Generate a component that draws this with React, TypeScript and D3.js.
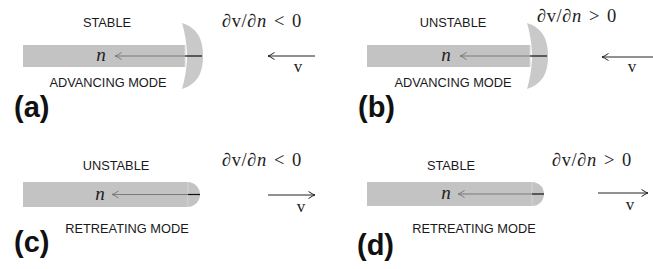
import React from "react";
import * as d3 from "d3";

// ---- content ----
const panelLabels = ["(a)", "(b)", "(c)", "(d)"];
const stabilityLabels = ["STABLE", "UNSTABLE", "UNSTABLE", "STABLE"];
const modeLabels = ["ADVANCING MODE", "ADVANCING MODE", "RETREATING MODE", "RETREATING MODE"];
const gradientSigns = ["<", ">", "<", ">"];
const flowDirections = [-1, -1, 1, 1]; // -1: v points left, 1: v points right
const frontShapes = ["cap", "cap", "round", "round"];

// ---- layout (per panel geometry) ----
const layout = [
  { barX0: 23, barX1: 185, barY0: 45, barY1: 67, capX0: 182, capX1: 203, capY0: 23, capY1: 89, headX: 115, nX: 101,
    topX: 107, topY: 27, botX: 108, botY: 87, labX: 14, labY: 117, fX: 222, fY: 27, vx0: 268, vx1: 315, vy: 56, vX: 298, vY: 72 },
  { barX0: 367, barX1: 530, barY0: 45, barY1: 67, capX0: 527, capX1: 548, capY0: 23, capY1: 89, headX: 460, nX: 446,
    topX: 453, topY: 27, botX: 453, botY: 87, labX: 358, labY: 117, fX: 537, fY: 22, vx0: 602, vx1: 656, vy: 57, vX: 632, vY: 72 },
  { barX0: 23, barX1: 200, barY0: 182, barY1: 207, capX0: 188, capX1: 200, capY0: 0, capY1: 0, headX: 112, nX: 100,
    topX: 116, topY: 170, botX: 127, botY: 233, labX: 14, labY: 252, fX: 222, fY: 166, vx0: 268, vx1: 315, vy: 195, vX: 301, vY: 212 },
  { barX0: 367, barX1: 544, barY0: 182, barY1: 206, capX0: 532, capX1: 544, capY0: 0, capY1: 0, headX: 458, nX: 446,
    topX: 451, topY: 170, botX: 474, botY: 233, labX: 357, labY: 255, fX: 552, fY: 166, vx0: 598, vx1: 648, vy: 193, vX: 630, vY: 210 },
];

const W = 653;
const H = 269;

function arrowPath(tailX: number, headX: number, y: number, size = 5) {
  const dir = headX < tailX ? 1 : -1; // barbs extend back toward tail
  const p = d3.path();
  p.moveTo(tailX, y);
  p.lineTo(headX, y);
  p.moveTo(headX + dir * size * 1.3, y - size * 0.7);
  p.quadraticCurveTo(headX + dir * size * 0.4, y - size * 0.1, headX, y);
  p.quadraticCurveTo(headX + dir * size * 0.4, y + size * 0.1, headX + dir * size * 1.3, y + size * 0.7);
  return p.toString();
}

function capPath(g: any) {
  const cy = (g.barY0 + g.barY1) / 2;
  const p = d3.path();
  p.moveTo(g.capX0, g.capY0);
  p.bezierCurveTo(g.capX0 + 15, g.capY0 + 5, g.capX1, cy - 18, g.capX1, cy);
  p.bezierCurveTo(g.capX1, cy + 18, g.capX0 + 15, g.capY1 - 5, g.capX0, g.capY1);
  p.bezierCurveTo(g.capX0 + 4, g.capY1 - 14, g.capX0 + 5, cy + 8, g.capX0 + 5, cy);
  p.bezierCurveTo(g.capX0 + 5, cy - 8, g.capX0 + 4, g.capY0 + 14, g.capX0, g.capY0);
  p.closePath();
  return p.toString();
}

function roundEndPath(g: any) {
  const r = (g.barY1 - g.barY0) / 2;
  const p = d3.path();
  p.moveTo(g.barX0, g.barY0);
  p.lineTo(g.barX1 - r, g.barY0);
  p.arc(g.barX1 - r, g.barY0 + r, r, -Math.PI / 2, Math.PI / 2);
  p.lineTo(g.barX0, g.barY1);
  p.closePath();
  return p.toString();
}

const sans = "'Liberation Sans', Arial, sans-serif";
const serif = "'Liberation Serif', 'DejaVu Serif', serif";

function Panel({ i }: { i: number }) {
  const g = layout[i];
  const cy = (g.barY0 + g.barY1) / 2;
  const isCap = frontShapes[i] === "cap";
  const tipStart = isCap ? g.barX1 : g.capX0;
  const tipEnd = isCap ? g.capX1 - 1 : g.barX1;
  return (
    <g>
      {isCap ? (
        <>
          <rect x={g.barX0} y={g.barY0} width={g.barX1 - g.barX0} height={g.barY1 - g.barY0} fill="#c3c3c3" />
          <path d={capPath(g)} fill="#c9c9c9" />
          <line x1={g.barX1} x2={g.barX1} y1={g.barY0} y2={g.barY1} stroke="#d6d6d6" strokeWidth={1} />
        </>
      ) : (
        <>
          <path d={roundEndPath(g)} fill="#c3c3c3" />
          <line x1={g.capX0} x2={g.capX0} y1={g.barY0} y2={g.barY1} stroke="#d4d4d4" strokeWidth={1} />
        </>
      )}
      {/* n arrow inside the bar */}
      <path d={arrowPath(tipStart, g.headX, cy, 5)} fill="none" stroke="#7a7a7a" strokeWidth={1} />
      <line x1={tipStart} x2={tipEnd} y1={cy} y2={cy} stroke="#111" strokeWidth={1.2} />
      <text x={g.nX} y={cy + 5} textAnchor="middle" fontFamily={serif} fontStyle="italic" fontSize={19} fill="#222">n</text>

      <text x={g.topX} y={g.topY} textAnchor="middle" fontFamily={sans} fontSize={12.8} fill="#1a1a1a">{stabilityLabels[i]}</text>
      <text x={g.botX} y={g.botY} textAnchor="middle" fontFamily={sans} fontSize={12.8} fill="#1a1a1a">{modeLabels[i]}</text>
      <text x={g.labX} y={g.labY} fontFamily={sans} fontWeight="bold" fontSize={29} fill="#111">{panelLabels[i]}</text>

      <text x={g.fX} y={g.fY} fontFamily={serif} fontSize={18.5} letterSpacing={0.6} fill="#222">
        <tspan fontStyle="italic">∂</tspan>
        <tspan>v/</tspan>
        <tspan fontStyle="italic">∂n</tspan>
        <tspan dx={7}>{gradientSigns[i]}</tspan>
        <tspan dx={7}>0</tspan>
      </text>

      <path
        d={flowDirections[i] < 0 ? arrowPath(g.vx1, g.vx0, g.vy, 5) : arrowPath(g.vx0, g.vx1, g.vy, 5)}
        fill="none"
        stroke="#222"
        strokeWidth={1}
      />
      <text x={g.vX} y={g.vY} textAnchor="middle" fontFamily={serif} fontSize={17} fill="#222">v</text>
    </g>
  );
}

export default function App() {
  return (
    <svg width={W} height={H} style={{ position: "absolute", left: 0, top: 0, background: "#fff" }}>
      <rect width={W} height={H} fill="#fff" />
      {panelLabels.map((_, i) => (
        <Panel key={i} i={i} />
      ))}
    </svg>
  );
}
